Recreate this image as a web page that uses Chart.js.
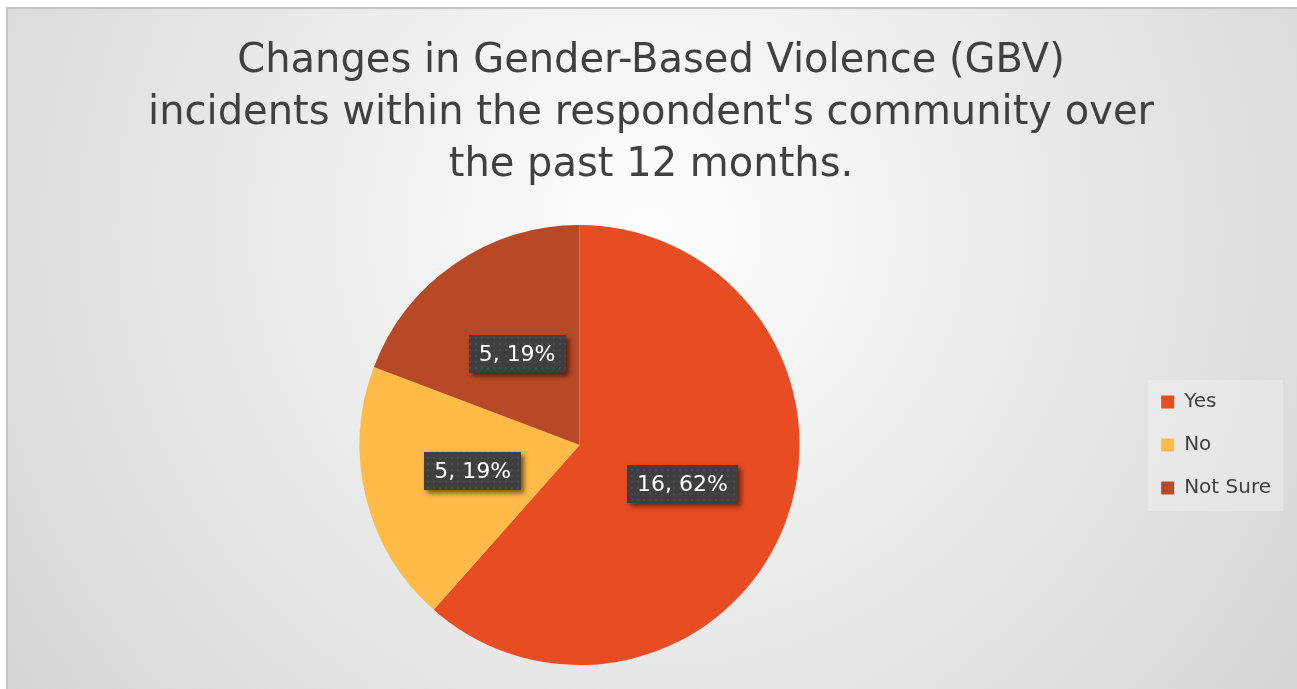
<!DOCTYPE html>
<html>
<head>
<meta charset="utf-8">
<script src="https://cdn.jsdelivr.net/npm/chart.js@4.4.0/dist/chart.umd.min.js"></script>
<style>
  html, body { margin: 0; padding: 0; background: #fff; }
  canvas { display: block; }
</style>
</head>
<body>
<canvas id="myChart" width="1297" height="689"></canvas>
<script>
const categories = ['Yes', 'No', 'Not Sure'];
const counts = [16, 5, 5];
const colours = ['#E84C22', '#FFBA47', '#B84926'];
const titleLines = ['Changes in Gender-Based Violence (GBV)', "incidents within the respondent's community over", 'the past 12 months.'];

const total = counts.reduce((a, b) => a + b, 0);
const FONT = '"DejaVu Sans", Verdana, sans-serif';

// background + legend panel, drawn before the boxes
const backdrop = {
  id: 'backdrop',
  beforeDraw(chart) {
    const c = chart.ctx;
    c.save();
    c.fillStyle = '#fff';
    c.fillRect(0, 0, chart.width, chart.height);
    const g = c.createRadialGradient(650, 230, 0, 650, 230, 950);
    g.addColorStop(0, '#fefefe');
    g.addColorStop(1, '#cdcdcd');
    c.fillStyle = g;
    c.fillRect(8, 9, chart.width, chart.height);
    c.strokeStyle = '#c4c4c4';
    c.lineWidth = 2;
    c.beginPath();
    c.moveTo(7, chart.height);
    c.lineTo(7, 8);
    c.lineTo(chart.width, 8);
    c.stroke();

    const boxes = chart.legend.legendHitBoxes;
    if (boxes && boxes.length) {
      const l = Math.min(...boxes.map(b => b.left)) - 13;
      const t = Math.min(...boxes.map(b => b.top)) - 12;
      const r = Math.max(...boxes.map(b => b.left + b.width)) + 12;
      const btm = Math.max(...boxes.map(b => b.top + b.height)) + 13;
      c.fillStyle = 'rgba(255,255,255,0.28)';
      c.fillRect(l, t, r - l, btm - t);
    }
    c.restore();
  }
};

// dark callout labels
const dotPattern = (() => {
  const p = document.createElement('canvas');
  p.width = 6; p.height = 6;
  const pc = p.getContext('2d');
  pc.fillStyle = '#3f3f3f';
  pc.fillRect(0, 0, 6, 6);
  pc.fillStyle = '#4b4b4b';
  pc.fillRect(1, 1, 2, 2);
  return p;
})();

const callouts = {
  id: 'callouts',
  afterDatasetsDraw(chart) {
    const c = chart.ctx;
    const meta = chart.getDatasetMeta(0);
    c.save();
    c.font = '22px ' + FONT;
    c.textAlign = 'center';
    c.textBaseline = 'middle';
    meta.data.forEach((arc, i) => {
      const pos = arc.tooltipPosition();
      const v = counts[i];
      const txt = v + ', ' + Math.round(v / total * 100) + '%';
      const w = c.measureText(txt).width + 20;
      const h = 38;
      const x = Math.round(pos.x - w / 2), y = Math.round(pos.y - h / 2);
      c.save();
      c.shadowColor = 'rgba(0,0,0,0.55)';
      c.shadowBlur = 5;
      c.shadowOffsetX = 3;
      c.shadowOffsetY = 3;
      c.fillStyle = '#404040';
      c.fillRect(x, y, w, h);
      c.restore();
      c.fillStyle = c.createPattern(dotPattern, 'repeat');
      c.fillRect(x, y, w, h);
      c.fillStyle = '#ffffff';
      c.fillText(txt, pos.x, pos.y + 1);
    });
    c.restore();
  }
};

new Chart(document.getElementById('myChart'), {
  type: 'pie',
  data: {
    labels: categories,
    datasets: [{
      data: counts,
      backgroundColor: colours,
      borderWidth: 0
    }]
  },
  options: {
    responsive: false,
    animation: false,
    layout: { padding: { left: 21, right: 16, top: 0, bottom: 24 } },
    plugins: {
      title: {
        display: true,
        text: titleLines,
        color: '#404040',
        font: { family: FONT, size: 40, weight: 'normal', lineHeight: 1.3 },
        padding: { top: 36, bottom: 33 }
      },
      legend: {
        position: 'right',
        fullSize: false,
        labels: {
          color: '#404040',
          font: { family: FONT, size: 20 },
          boxWidth: 13,
          boxHeight: 13,
          padding: 23
        }
      },
      tooltip: { enabled: false }
    }
  },
  plugins: [backdrop, callouts]
});
</script>
</body>
</html>
